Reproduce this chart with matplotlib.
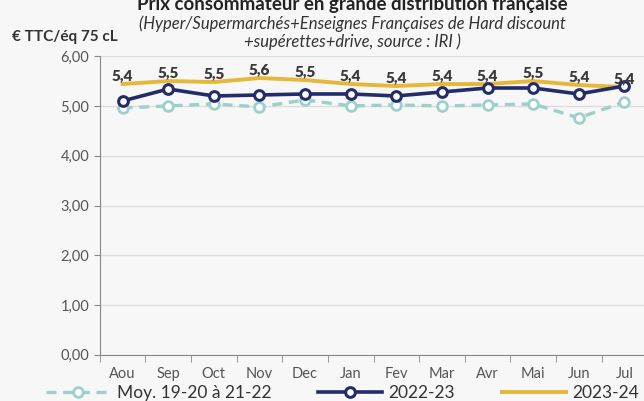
import numpy as np
import matplotlib.pyplot as plt
from matplotlib.ticker import FuncFormatter

plt.rcParams['font.family'] = ['Lato', 'DejaVu Sans']

mois = ['Aou', 'Sep', 'Oct', 'Nov', 'Dec', 'Jan', 'Fev', 'Mar', 'Avr', 'Mai', 'Jun', 'Jul']
moy = [4.96, 5.00, 5.04, 4.98, 5.12, 5.00, 5.02, 5.00, 5.02, 5.04, 4.76, 5.08]
s2223 = [5.10, 5.34, 5.20, 5.22, 5.24, 5.24, 5.20, 5.28, 5.36, 5.36, 5.24, 5.40]
s2324 = [5.44, 5.50, 5.48, 5.56, 5.52, 5.44, 5.40, 5.44, 5.44, 5.50, 5.42, 5.38]
labels_2324 = ['5,4', '5,5', '5,5', '5,6', '5,5', '5,4', '5,4', '5,4', '5,4', '5,5', '5,4', '5,4']

bg = '#F7F7F7'
fig = plt.figure(figsize=(6.44, 4.01), dpi=100, facecolor=bg)
ax = fig.add_axes([0.155, 0.115, 0.85, 0.745], facecolor=bg)

x = np.arange(len(mois))
ax.plot(x, moy, color='#9DCFCB', lw=2.4, ls=(0, (3, 2)), marker='o', ms=7,
        mfc='white', mec='#9DCFCB', mew=2, label='Moy. 19-20 à 21-22', zorder=3)
ax.plot(x, s2223, color='#232C6B', lw=2.6, marker='o', ms=7,
        mfc='white', mec='#232C6B', mew=2.2, label='2022-23', zorder=4)
ax.plot(x, s2324, color='#E5B83C', lw=2.8, label='2023-24', zorder=2)

for xi, v, t in zip(x, s2324, labels_2324):
    ax.text(xi, v + 0.03, t, ha='center', va='bottom', fontsize=11,
            fontweight='heavy', color='#3A3A3A', zorder=5)

ax.set_xlim(-0.5, 11.5)
ax.set_ylim(0, 6)
ax.set_yticks(np.arange(0, 7, 1))
ax.yaxis.set_major_formatter(FuncFormatter(lambda v, p: f'{v:.2f}'.replace('.', ',')))
ax.set_xticks(x)
ax.set_xticklabels(mois)
ax.set_xticks(np.arange(-0.5, 12, 1), minor=True)
ax.tick_params(axis='x', which='major', length=0, pad=9, labelsize=10.5, labelcolor='#555555')
ax.tick_params(axis='x', which='minor', length=5, color='#888888')
ax.tick_params(axis='y', length=4, color='#888888', labelsize=10.5, labelcolor='#555555')
ax.grid(axis='y', color='#DDDDDD', lw=1)
ax.set_axisbelow(True)
for s in ['top', 'right']:
    ax.spines[s].set_visible(False)
ax.spines['left'].set_color('#888888')
ax.spines['bottom'].set_color('#888888')

fig.text(0.547, 0.988, 'Prix consommateur en grande distribution française', ha='center',
         va='center', fontsize=13.5, fontweight='bold', color='#222222')
fig.text(0.547, 0.94, '(Hyper/Supermarchés+Enseignes Françaises de Hard discount',
         ha='center', va='center', fontsize=12, style='italic', color='#333333')
fig.text(0.547, 0.895, '+supérettes+drive, source : IRI )',
         ha='center', va='center', fontsize=12, style='italic', color='#333333')
fig.text(0.018, 0.908, '€ TTC/éq 75 cL', ha='left', va='center', fontsize=11,
         fontweight='bold', color='#333333')

fig.legend(loc='center', bbox_to_anchor=(0.532, 0.02), ncol=3, frameon=False,
           fontsize=12.5, handlelength=3.7, handletextpad=0.35, columnspacing=2.7,
           labelcolor='#333333')

fig.savefig('out.png', dpi=100, facecolor=bg)
